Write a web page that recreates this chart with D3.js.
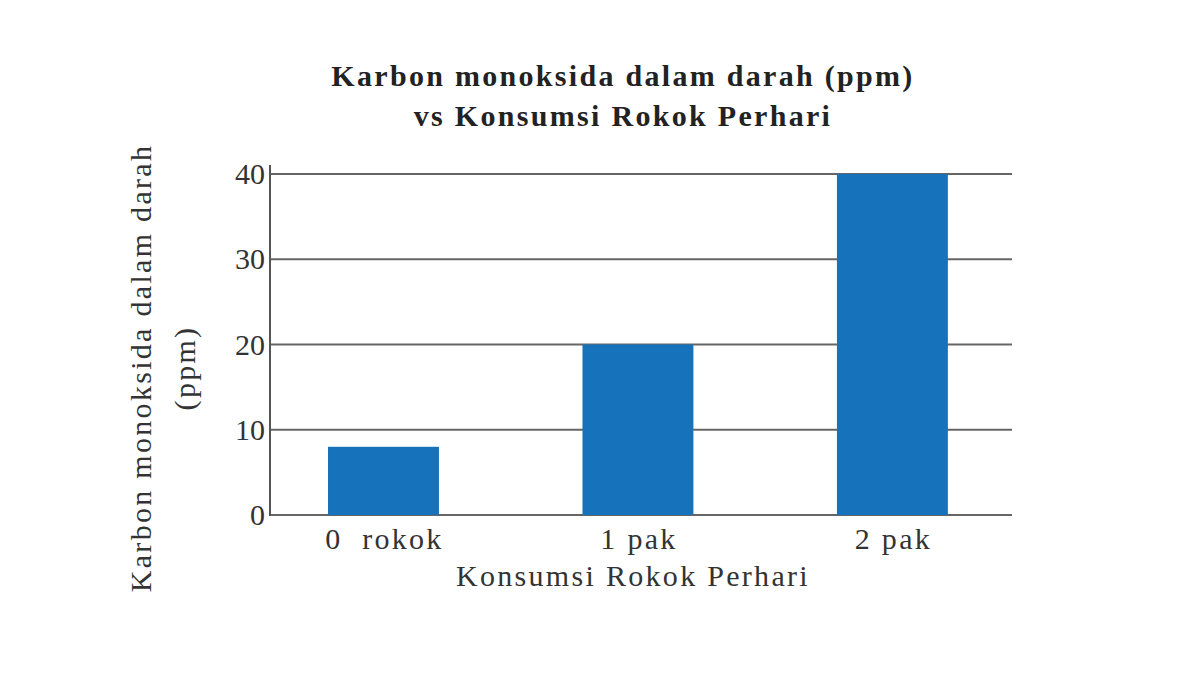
<!DOCTYPE html>
<html>
<head>
<meta charset="utf-8">
<script src="https://cdn.jsdelivr.net/npm/d3@7"></script>
<style>
  body { margin: 0; background: #fff; }
  text { font-family: "Liberation Serif", "DejaVu Serif", serif; fill: #333; letter-spacing: 2.3px; }
</style>
</head>
<body>
<div id="chart"></div>
<script>
// data
var categories = ["0  rokok", "1 pak", "2 pak"];
var values = [8, 20, 40];
var yTicks = [0, 10, 20, 30, 40];

var w = 1200, h = 675;
var svg = d3.select("#chart").append("svg")
    .attr("width", w)
    .attr("height", h);

// plot area
var plotLeft = 270, plotRight = 1012, plotTop = 174, plotBottom = 515;

var xScale = d3.scaleBand()
    .domain(categories)
    .range([plotLeft, plotRight])
    .paddingInner(0.564)
    .paddingOuter(0.24)
    .align(0.475);

var yScale = d3.scaleLinear()
    .domain([0, 40])
    .range([plotBottom, plotTop]);

// grid lines
svg.append("g")
    .selectAll("line")
    .data(yTicks)
    .enter()
    .append("line")
    .attr("x1", plotLeft)
    .attr("x2", plotRight)
    .attr("y1", d => yScale(d))
    .attr("y2", d => yScale(d))
    .attr("stroke", "#666")
    .attr("stroke-width", 2);

// bars
svg.append("g")
    .selectAll("rect")
    .data(values)
    .enter()
    .append("rect")
    .attr("x", (d, i) => xScale(categories[i]))
    .attr("y", d => yScale(d))
    .attr("width", xScale.bandwidth())
    .attr("height", d => plotBottom - yScale(d))
    .attr("fill", "#1672bb");

// y axis line
svg.append("line")
    .attr("x1", plotLeft).attr("x2", plotLeft)
    .attr("y1", plotTop - 9).attr("y2", plotBottom + 1)
    .attr("stroke", "#555")
    .attr("stroke-width", 2);

// y tick labels
svg.append("g")
    .selectAll("text")
    .data(yTicks)
    .enter()
    .append("text")
    .attr("x", plotLeft - 5)
    .attr("y", d => yScale(d) + 10)
    .attr("text-anchor", "end")
    .style("font-size", "30px")
    .style("letter-spacing", "0px")
    .text(d => d);

// x tick labels
svg.append("g")
    .selectAll("text")
    .data(categories)
    .enter()
    .append("text")
    .attr("x", d => xScale(d) + xScale.bandwidth() / 2 + 1)
    .attr("y", 549)
    .attr("text-anchor", "middle")
    .attr("xml:space", "preserve")
    .style("white-space", "pre")
    .style("font-size", "30px")
    .text(d => d);

// x axis title
svg.append("text")
    .attr("x", 633)
    .attr("y", 586)
    .attr("text-anchor", "middle")
    .style("font-size", "30px")
    .text("Konsumsi Rokok Perhari");

// y axis title (two lines)
var yTitle = svg.append("text")
    .attr("transform", "translate(151,368) rotate(-90)")
    .attr("text-anchor", "middle")
    .style("font-size", "30px");
yTitle.append("tspan").attr("x", 0).attr("y", 0).text("Karbon monoksida dalam darah");
yTitle.append("tspan").attr("x", 0).attr("y", 44).text("(ppm)");

// chart title
var title = svg.append("text")
    .attr("text-anchor", "middle")
    .style("font-size", "30px")
    .style("font-weight", "bold")
    .style("fill", "#222");
title.append("tspan").attr("x", 623).attr("y", 86).text("Karbon monoksida dalam darah (ppm)");
title.append("tspan").attr("x", 623).attr("y", 126).text("vs Konsumsi Rokok Perhari");
</script>
</body>
</html>
